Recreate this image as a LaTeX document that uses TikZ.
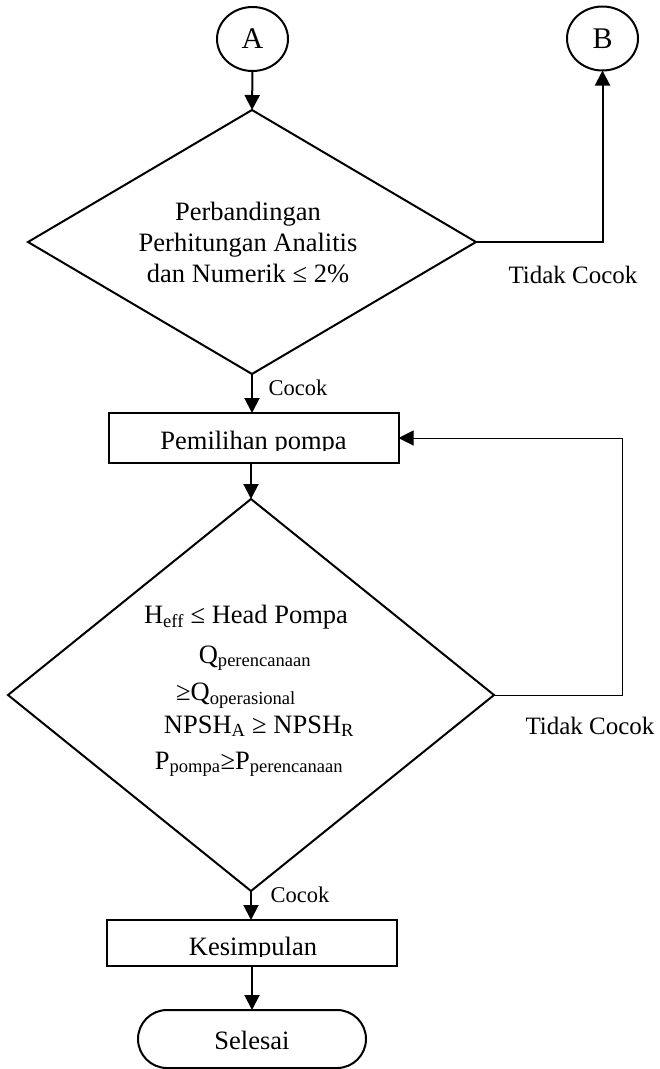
\documentclass[tikz,border=0pt]{standalone}
\usepackage{fontspec}
\setmainfont{Liberation Serif}
\usetikzlibrary{shapes.geometric,arrows.meta}
\begin{document}
\begin{tikzpicture}[x=1pt,y=-1pt,line width=2pt,
  every node/.style={inner sep=0pt,outer sep=0pt},
  connector/.style={ellipse,draw,minimum width=71pt,minimum height=64pt,font=\fontsize{30}{34}\selectfont},
  decision/.style={diamond,draw},
  process/.style={rectangle,draw,minimum width=290pt},
  terminal/.style={rectangle,draw,rounded corners=29pt,minimum width=228pt,minimum height=58pt},
  body/.style={font=\fontsize{26.5}{31}\selectfont,align=center},
  yeslabel/.style={font=\fontsize{22.5}{26}\selectfont},
  nolabel/.style={font=\fontsize{25}{29}\selectfont},
  flow/.style={-{Triangle[length=15pt,width=15pt]},line width=2pt},
  backflow/.style={flow,line width=1pt}]
\useasboundingbox (0,0) rectangle (660,1069);

% off-page connectors
\node[connector] (A) at (252.5,39) {A};
\node[connector] (B) at (602.5,38.5) {B};

% first check: analytic vs numeric
\node[decision,minimum width=448pt,minimum height=264pt] (d1) at (252,242) {};
\node[body] (d1text) at (248,242) {Perbandingan\\Perhitungan Analitis\\dan Numerik ≤ 2\%};

% pump selection (text box cut off just below the baseline)
\node[process,minimum height=50pt] (p1) at (253.5,438) {};
\begin{scope}
  \clip (109,413) rectangle (398,450.5);
  \node[body,anchor=base] (p1text) at (253.5,449) {Pemilihan pompa};
\end{scope}

% second check: pump criteria
\node[decision,minimum width=486pt,minimum height=392pt] (d2) at (251,695) {};
\node[body,anchor=base] (k1) at (246,623) {H\textsubscript{eff} ≤ Head Pompa};
\node[body,anchor=base] (k2) at (255,663) {Q\textsubscript{perencanaan}};
\node[body,anchor=base] (k3) at (236,700) {≥Q\textsubscript{operasional}};
\node[body,anchor=base] (k4) at (259,733) {NPSH\textsubscript{A} ≥ NPSH\textsubscript{R}};
\node[body,anchor=base] (k5) at (249,769) {P\textsubscript{pompa}≥P\textsubscript{perencanaan}};

% conclusion (also cut off below the baseline) and end
\node[process,minimum height=46pt] (p2) at (252,943) {};
\begin{scope}
  \clip (107,920) rectangle (397,956.5);
  \node[body,anchor=base] (p2text) at (253,955) {Kesimpulan};
\end{scope}
\node[terminal] (end) at (252,1039) {};
\node[body,anchor=base] (endtext) at (252,1049) {Selesai};

% branch labels
\node[yeslabel] (y1) at (298,388) {Cocok};
\node[yeslabel] (y2) at (300,895) {Cocok};
\node[nolabel] (n1) at (573,275) {Tidak Cocok};
\node[nolabel] (n2) at (590,726) {Tidak Cocok};

% main flow
\draw[flow] (A.south) -- (d1.north);
\draw[flow] (d1.south) -- (d1.south |- p1.north);
\draw[flow] (p1.south -| d2.north) -- (d2.north);
\draw[flow] (d2.south) -- (d2.south |- p2.north);
\draw[flow] (p2.south) -- (end.north);

% rejection paths
\draw[flow] (d1.east) -| (B.south);
\coordinate (loopx) at (622,0);
\draw[backflow] (d2.east) -- (d2.east -| loopx) |- (p1.east);
\end{tikzpicture}
\end{document}
